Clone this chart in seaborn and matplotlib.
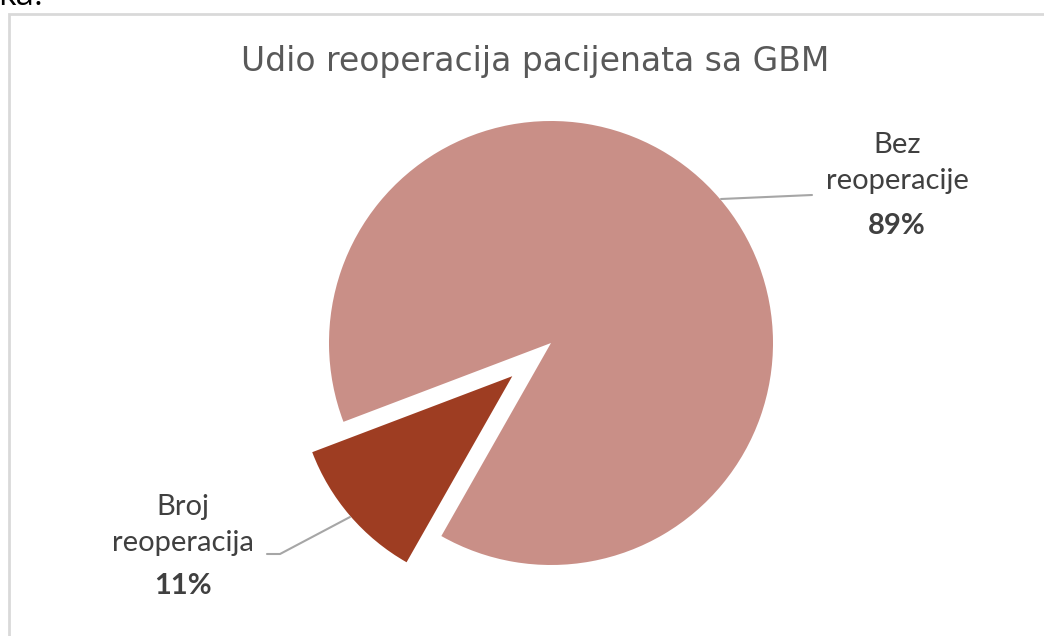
import matplotlib.pyplot as plt
import matplotlib.patches as mpatches
import seaborn as sns

# podaci
kategorije = ['Broj reoperacija', 'Bez reoperacije']
oznake = ['Broj\nreoperacija', 'Bez\nreoperacije']
udio = [11, 89]
boje = ['#9E3D22', '#C98F87']

sns.set_theme(style='white')
plt.rcParams['font.family'] = ['Lato', 'DejaVu Sans']

W, H = 1044, 636
fig = plt.figure(figsize=(W / 100, H / 100), dpi=100)
ax = fig.add_axes([0, 0, 1, 1])
ax.set_xlim(0, W)
ax.set_ylim(0, H)
ax.set_aspect('equal')
ax.axis('off')

# pita: centar i radijus u pikselima (explode je u istim jedinicama)
cx, cy, r = 551, H - 343, 222
wedges, _ = ax.pie(udio, colors=boje, startangle=200.8, counterclock=True,
                   explode=[51, 0], center=(cx, cy), radius=r,
                   wedgeprops=dict(linewidth=0))
wedges[0].set_radius(214)  # izvučeni dio je malo manji
ax.set_xlim(0, W)
ax.set_ylim(0, H)

# okvir grafikona
fig.patches.append(mpatches.Rectangle((9 / W, -0.1), 1.2, 1 - 14 / H + 0.1,
                                      transform=fig.transFigure, fill=False,
                                      edgecolor='#D9D9D9', linewidth=2))
fig.text(-2 / W, 1 - 5 / H, 'ka.', fontsize=24, color='black',
         va='baseline', family='Open Sans')

ax.text(535, H - 62, 'Udio reoperacija pacijenata sa GBM', ha='center',
        va='center', fontsize=23.8, color='#595959', family='DejaVu Sans')

# oznake s linijama
lbl_col = '#404040'
ax.plot([721, 812], [H - 199, H - 195], color='#A6A6A6', lw=1.5)
ax.text(897, H - 163, oznake[1], ha='center', va='center', fontsize=21,
        color=lbl_col, linespacing=1.45)
ax.text(897, H - 226, f'{udio[1]}%', ha='center', va='center', fontsize=21,
        color=lbl_col, fontweight='bold')

ax.plot([350, 280, 267], [H - 517, H - 554, H - 554], color='#A6A6A6', lw=1.5)
ax.text(183, H - 525, oznake[0], ha='center', va='center', fontsize=21,
        color=lbl_col, linespacing=1.45)
ax.text(183, H - 586, f'{udio[0]}%', ha='center', va='center', fontsize=21,
        color=lbl_col, fontweight='bold')

plt.savefig('out.png', dpi=100)
